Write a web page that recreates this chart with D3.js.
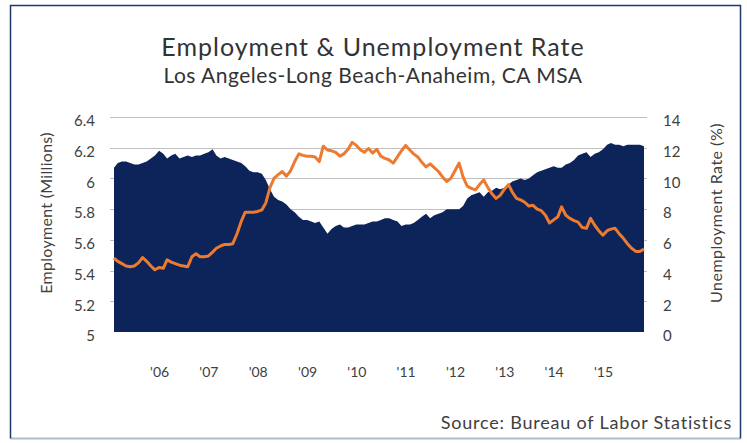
<!DOCTYPE html>
<html>
<head>
<meta charset="utf-8">
<script src="https://cdn.jsdelivr.net/npm/d3@7"></script>
<style>
  html, body { margin: 0; padding: 0; background: #fff; }
  svg { display: block; }
  text { font-family: Lato, "Open Sans", sans-serif; fill: #404040; }
</style>
</head>
<body>
<svg id="chart" width="747" height="443"></svg>
<script>
// Monthly series, Feb 2005 through Nov 2015
const firstMonth = new Date(2005, 1, 1);
const lastMonth = new Date(2015, 10, 1);

// Total employment, millions
const employment = [
  6.07, 6.10, 6.11, 6.11, 6.10, 6.09, 6.09, 6.10, 6.11, 6.13,
  6.15, 6.18, 6.16, 6.13, 6.15, 6.16, 6.13, 6.14, 6.15, 6.14,
  6.15, 6.15, 6.16, 6.17, 6.19, 6.15, 6.13, 6.14, 6.13, 6.12,
  6.11, 6.10, 6.08, 6.05, 6.04, 6.04, 6.03, 5.99, 5.93, 5.88,
  5.86, 5.85, 5.83, 5.80, 5.78, 5.75, 5.73, 5.73, 5.72, 5.71,
  5.72, 5.68, 5.64, 5.67, 5.69, 5.70, 5.68, 5.68, 5.69, 5.70,
  5.70, 5.70, 5.71, 5.72, 5.72, 5.73, 5.74, 5.74, 5.73, 5.72,
  5.69, 5.70, 5.70, 5.71, 5.73, 5.75, 5.77, 5.74, 5.76, 5.77,
  5.78, 5.80, 5.80, 5.80, 5.80, 5.82, 5.87, 5.89, 5.90, 5.91,
  5.88, 5.91, 5.92, 5.94, 5.93, 5.94, 5.96, 5.98, 5.99, 6.00,
  5.99, 6.00, 6.02, 6.04, 6.05, 6.06, 6.07, 6.08, 6.07, 6.07,
  6.09, 6.10, 6.12, 6.15, 6.16, 6.17, 6.14, 6.16, 6.17, 6.19,
  6.22, 6.23, 6.22, 6.22, 6.21, 6.22, 6.22, 6.22, 6.22, 6.21
];

// Unemployment rate, percent
const unemployment = [
  4.80, 4.60, 4.45, 4.30, 4.25, 4.30, 4.50, 4.85, 4.60, 4.30,
  4.05, 4.20, 4.15, 4.70, 4.55, 4.45, 4.35, 4.30, 4.25, 4.90,
  5.10, 4.90, 4.90, 4.95, 5.20, 5.45, 5.60, 5.70, 5.70, 5.75,
  6.40, 7.20, 7.80, 7.80, 7.80, 7.85, 7.95, 8.40, 9.40, 10.00,
  10.25, 10.45, 10.15, 10.50, 11.10, 11.60, 11.50, 11.45, 11.45, 11.40,
  11.10, 12.10, 11.85, 11.80, 11.70, 11.45, 11.60, 11.90, 12.35, 12.15,
  11.85, 11.70, 11.95, 11.65, 11.90, 11.45, 11.30, 11.20, 11.00, 11.40,
  11.80, 12.15, 11.85, 11.60, 11.40, 11.05, 10.75, 10.95, 10.70, 10.45,
  10.10, 9.80, 10.00, 10.50, 11.00, 10.10, 9.50, 9.35, 9.25, 9.60,
  9.90, 9.40, 9.00, 8.70, 8.90, 9.30, 9.60, 9.10, 8.70, 8.60,
  8.45, 8.20, 8.25, 8.00, 7.90, 7.60, 7.10, 7.30, 7.50, 8.15,
  7.60, 7.40, 7.25, 7.15, 6.80, 6.75, 7.40, 6.95, 6.60, 6.30,
  6.60, 6.70, 6.75, 6.40, 6.10, 5.75, 5.45, 5.25, 5.25, 5.40
];

// Axis ticks
const empTicks = [5, 5.2, 5.4, 5.6, 5.8, 6, 6.2, 6.4];
const rateTicks = [0, 2, 4, 6, 8, 10, 12, 14];
const yearTicks = [2006, 2007, 2008, 2009, 2010, 2011, 2012, 2013, 2014, 2015];
const yearLabels = ["'06", "'07", "'08", "'09", "'10", "'11", "'12", "'13", "'14", "'15"];

const months = d3.timeMonth.range(firstMonth, d3.timeMonth.offset(lastMonth, 1));

const svg = d3.select("#chart");

const plot = { left: 114, right: 644, top: 117, bottom: 332 };

const x = d3.scaleTime().domain([firstMonth, lastMonth]).range([plot.left, plot.right]);
const yEmp = d3.scaleLinear().domain([5, 6.4]).range([plot.bottom, plot.top]);
const yRate = d3.scaleLinear().domain([0, 14]).range([plot.bottom, plot.top]);

// Outer frame
svg.append("line").attr("x1", 10.5).attr("x2", 740.5).attr("y1", 438.5).attr("y2", 438.5)
  .attr("stroke", "#a9bfcc").attr("stroke-width", 2);
svg.append("path")
  .attr("d", "M10.5,438.5 V5.5 H740.5 V438.5")
  .attr("fill", "none").attr("stroke", "#1d3a6b").attr("stroke-width", 1.5);

// Titles
svg.append("text").attr("x", 373).attr("y", 56).attr("text-anchor", "middle")
  .style("font-size", "25px").style("letter-spacing", "1px").style("fill", "#333")
  .text("Employment & Unemployment Rate");
svg.append("text").attr("x", 373).attr("y", 83).attr("text-anchor", "middle")
  .style("font-size", "21px").style("letter-spacing", "0.5px").style("fill", "#333")
  .text("Los Angeles-Long Beach-Anaheim, CA MSA");

// Horizontal gridlines (left axis)
svg.append("g").selectAll("line").data(empTicks.filter(d => d > 5)).join("line")
  .attr("x1", 110).attr("x2", 647)
  .attr("y1", d => Math.round(yEmp(d)) + 0.5).attr("y2", d => Math.round(yEmp(d)) + 0.5)
  .attr("stroke", "#bfbfbf").attr("stroke-width", 1);

// Employment area
const area = d3.area()
  .x((d, i) => x(months[i]))
  .y0(yEmp(5))
  .y1(d => yEmp(d))
  .curve(d3.curveLinear);
svg.append("path").datum(employment).attr("d", area).attr("fill", "#0c2459");

// Unemployment line
const line = d3.line()
  .x((d, i) => x(months[i]))
  .y(d => yRate(d));
svg.append("path").datum(unemployment).attr("d", line)
  .attr("fill", "none").attr("stroke", "#ee7a30").attr("stroke-width", 3)
  .attr("stroke-linejoin", "round");

// Left axis
const leftAxis = d3.axisLeft(yEmp).tickValues(empTicks).tickSize(0).tickPadding(0)
  .tickFormat(d3.format("~g"));
const gl = svg.append("g").attr("transform", "translate(95,4)").call(leftAxis);
gl.select(".domain").remove();
gl.selectAll("text").style("font-size", "15px").style("fill", "#404040")
  .style("font-family", "Lato, 'Open Sans', sans-serif");

// Right axis
const rightAxis = d3.axisRight(yRate).tickValues(rateTicks).tickSize(0).tickPadding(0);
const gr = svg.append("g").attr("transform", "translate(663,4)").call(rightAxis);
gr.select(".domain").remove();
gr.selectAll("text").style("font-size", "15px").style("fill", "#404040")
  .style("font-family", "Lato, 'Open Sans', sans-serif");

// Bottom axis (year labels)
const bottomAxis = d3.axisBottom(x)
  .tickValues(yearTicks.map(yr => new Date(yr, 0, 1)))
  .tickFormat((d, i) => yearLabels[i])
  .tickSize(0).tickPadding(0);
const gb = svg.append("g").attr("transform", "translate(0,367)").call(bottomAxis);
gb.select(".domain").remove();
gb.selectAll("text").style("font-size", "14px").style("fill", "#404040")
  .style("font-family", "Lato, 'Open Sans', sans-serif");

// Axis titles
svg.append("text").attr("transform", "translate(52,213) rotate(-90)")
  .attr("text-anchor", "middle").style("font-size", "16px").style("letter-spacing", "0.3px")
  .text("Employment (Millions)");
svg.append("text").attr("transform", "translate(722,213) rotate(-90)")
  .attr("text-anchor", "middle").style("font-size", "16px").style("letter-spacing", "0.5px")
  .text("Unemployment Rate (%)");

// Source note
svg.append("text").attr("x", 732).attr("y", 429).attr("text-anchor", "end")
  .style("font-size", "18px").style("letter-spacing", "0.8px")
  .text("Source: Bureau of Labor Statistics");
</script>
</body>
</html>
